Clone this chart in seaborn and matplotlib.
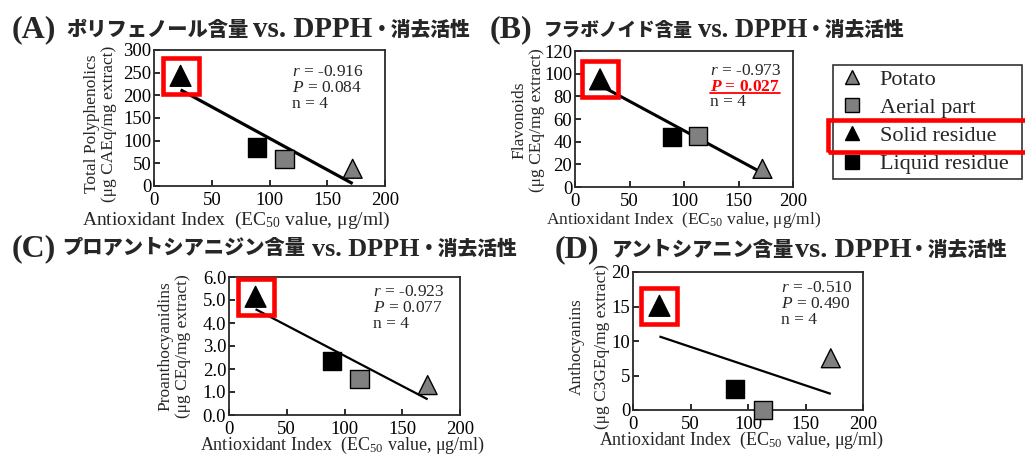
import numpy as np
import pandas as pd
import matplotlib
matplotlib.use("Agg")
import matplotlib.pyplot as plt
import seaborn as sns
from matplotlib.lines import Line2D
from matplotlib.patches import Rectangle
from matplotlib.ticker import FormatStrFormatter

# ---------------- data ----------------
groups = ["Potato", "Aerial part", "Solid residue", "Liquid residue"]
ec50 = [172, 113, 23, 89]
polyphenolics = [38, 59, 243, 85]
flavonoids = [16, 45, 95, 44.5]
proanthocyanidins = [1.3, 1.58, 5.14, 2.36]
anthocyanins = [7.5, 0.0, 15.1, 3.0]

stats_r = ["-0.916", "-0.973", "-0.923", "-0.510"]
stats_p = ["0.084", "0.027", "0.077", "0.490"]
stats_n = ["4", "4", "4", "4"]

ylabels = ["Total Polyphenolics\n(μg CAEq/mg extract)",
           "Flavonoids\n(μg CEq/mg extract)",
           "Proanthocyanidins\n(μg CEq/mg extract)",
           "Anthocyanins\n(μg C3GEq/mg extract)"]
xlabel = "Antioxidant Index  (EC$_{50}$ value, μg/ml)"
letters = ["(A)", "(B)", "(C)", "(D)"]
jp_titles = ["ポリフェノール含量", "フラボノイド含量", "プロアントシアニジン含量", "アントシアニン含量"]
vs_text = "vs. DPPH"
jp_tail = "・消去活性"

yticks_list = [np.arange(0, 301, 50), np.arange(0, 121, 20),
               np.arange(0, 6.01, 1.0), np.arange(0, 21, 5)]
ylims = [(0, 300), (0, 120), (0, 6), (0, 20)]
xticks = [0, 50, 100, 150, 200]

# ---------------- style ----------------
sns.set_style("ticks")
plt.rcParams["font.family"] = ["Liberation Serif", "Noto Sans CJK JP"]
plt.rcParams["mathtext.fontset"] = "custom"
plt.rcParams["mathtext.rm"] = "Liberation Serif"
plt.rcParams["mathtext.it"] = "Liberation Serif:italic"
plt.rcParams["mathtext.bf"] = "Liberation Serif:bold"
plt.rcParams["mathtext.bfit"] = "Liberation Serif:bold:italic"

W, H = 1025, 455
fig = plt.figure(figsize=(W / 100, H / 100), dpi=100)


def fx(x):
    return x / W


def fy(y):
    return 1 - y / H


palette = {"Potato": "#808080", "Aerial part": "#808080",
           "Solid residue": "#000000", "Liquid residue": "#000000"}
markers = {"Potato": "^", "Aerial part": "s", "Solid residue": "^", "Liquid residue": "s"}
sizes = {"Potato": 185, "Aerial part": 170, "Solid residue": 225, "Liquid residue": 170}

# axes rects in pixels: left, top, right, bottom
rects = [(154, 50, 385, 186), (575, 51, 793, 187), (229, 277, 460, 415), (633, 272, 863, 410)]
series = [polyphenolics, flavonoids, proanthocyanidins, anthocyanins]
line_w = [2.3, 2.2, 1.6, 1.6]
ylab_x = [-0.232, -0.216, -0.238, -0.19]
ylab_y = [0.46, 0.49, 0.5, 0.46]
ylab_ls = [1.15, 1.15, 1.15, 1.75]
xlab_x = [0.355, 0.5, 0.49, 0.47]
xlab_dy = [34, 33, 30, 30]
xlab_fs = [14, 12.5, 13, 13]
ann_pos = [(292, [72, 88, 104]), (710, [71, 87, 102]), (373, [292, 308, 324]), (781, [288, 304, 320])]

for i in range(4):
    l, t, r, b = rects[i]
    ax = fig.add_axes([fx(l), fy(b), (r - l) / W, (b - t) / H])
    df = pd.DataFrame({"x": ec50, "y": series[i], "group": groups})
    sns.regplot(data=df, x="x", y="y", ax=ax, scatter=False, ci=None, truncate=True,
                color="black", line_kws=dict(lw=line_w[i], solid_capstyle="butt"))
    sns.scatterplot(data=df, x="x", y="y", hue="group", style="group", size="group",
                    palette=palette, markers=markers, sizes=sizes, hue_order=groups,
                    style_order=groups, size_order=groups,
                    edgecolor="black", linewidth=1.0, legend=False, ax=ax,
                    zorder=3, clip_on=False)
    # red highlight around the solid residue point
    sel = df[df["group"] == "Solid residue"]
    ax.plot(sel["x"], sel["y"], marker="s", ms=25.5, mfc="none", mec="#ff0000",
            mew=3.3, ls="none", clip_on=False, zorder=4)
    ax.set_xlim(0, 200)
    ax.set_ylim(*ylims[i])
    ax.set_xticks(xticks)
    ax.set_yticks(yticks_list[i])
    if i == 2:
        ax.yaxis.set_major_formatter(FormatStrFormatter("%.1f"))
    ax.tick_params(direction="in", length=4, width=1.3, labelsize=13.5,
                   color="#1a1a1a", labelcolor="black")
    ax.tick_params(axis="y", pad=2)
    ax.tick_params(axis="x", pad=4.5)
    for sp in ax.spines.values():
        sp.set_color("#2a2a2a")
        sp.set_linewidth(1.3)
        sp.set_visible(True)
    ax.set_xlabel(xlabel, fontsize=xlab_fs[i])
    ax.xaxis.set_label_coords(xlab_x[i], -xlab_dy[i] / (b - t))
    ax.xaxis.label.set_verticalalignment("center")
    ax.set_ylabel(ylabels[i], fontsize=12.5, linespacing=ylab_ls[i])
    ax.yaxis.set_label_coords(ylab_x[i], ylab_y[i])
    ax.yaxis.label.set_verticalalignment("center")

    # statistics annotation
    axx, ys = ann_pos[i]
    fig.text(fx(axx), fy(ys[0]), "$r$ = " + stats_r[i], fontsize=12.5, va="center", ha="left")
    if i == 1:
        ptxt = fig.text(fx(axx), fy(ys[1]), r"$\mathbfit{P}$ = " + stats_p[i], fontsize=12.5,
                        fontweight="bold", color="#ff0000", va="center", ha="left")
    else:
        fig.text(fx(axx), fy(ys[1]), "$P$ = " + stats_p[i], fontsize=12.5, va="center", ha="left")
    fig.text(fx(axx), fy(ys[2]), "n = " + stats_n[i], fontsize=12.5, va="center", ha="left")

# ---------------- titles ----------------
# x positions (px) of: letter, Japanese part, "vs. DPPH", tail; baseline y (px);
# font sizes of the Japanese part and of "vs. DPPH"
title_layout = [
    (12, 66, 253, 372, 37, 14.6, 20.9),
    (490, 544, 698, 806, 37, 13.4, 19.2),
    (12, 62, 312, 419, 256, 14.6, 18.8),
    (555, 612, 795, 909, 257, 14.6, 20.4),
]
for i, (xl, xj, xv, xt, base, fsj, fsv) in enumerate(title_layout):
    fig.text(fx(xl), fy(base), letters[i], fontsize=23, fontweight="bold",
             family="Liberation Serif", va="baseline", ha="left")
    fig.text(fx(xj), fy(base - 1.5), jp_titles[i], fontsize=fsj, fontweight=900,
             family="Noto Sans CJK JP", va="baseline", ha="left")
    fig.text(fx(xv), fy(base), vs_text, fontsize=fsv, fontweight="bold",
             family="Liberation Serif", va="baseline", ha="left")
    fig.text(fx(xt), fy(base - 1.5), jp_tail, fontsize=14.2, fontweight=900,
             family="Noto Sans CJK JP", va="baseline", ha="left")

# ---------------- legend ----------------
handles = [Line2D([], [], ls="none", marker=markers[g], ms=(10 if markers[g] == "^" else 9.5),
                  mfc=palette[g], mec="black", mew=1.0) for g in groups]
leg = fig.legend(handles, groups, loc="upper left",
                 bbox_to_anchor=(fx(833), fy(172), (1022 - 833) / W, (172 - 65) / H),
                 bbox_transform=fig.transFigure, mode="expand", fontsize=16,
                 frameon=True, fancybox=False, edgecolor="#333333", framealpha=1,
                 handlelength=1.3, handletextpad=0.6, labelspacing=0.34,
                 borderpad=0.2, borderaxespad=0)
leg.get_frame().set_linewidth(1.2)
fig.add_artist(Rectangle((fx(828), fy(152)), (1040 - 828) / W, (152 - 120) / H,
                         transform=fig.transFigure, fill=False, ec="#ff0000", lw=3.3,
                         clip_on=False, zorder=10))

# underline for the significant P value
fig.canvas.draw()
bb = ptxt.get_window_extent(fig.canvas.get_renderer())
inv = fig.transFigure.inverted()
(x0, y0), (x1, _) = inv.transform([(bb.x0, bb.y0 + 2.5), (bb.x1, bb.y0 + 2.5)])
fig.add_artist(Line2D([x0, x1], [y0, y0], transform=fig.transFigure, color="#ff0000", lw=1.3))

fig.savefig("out.png", dpi=100)
